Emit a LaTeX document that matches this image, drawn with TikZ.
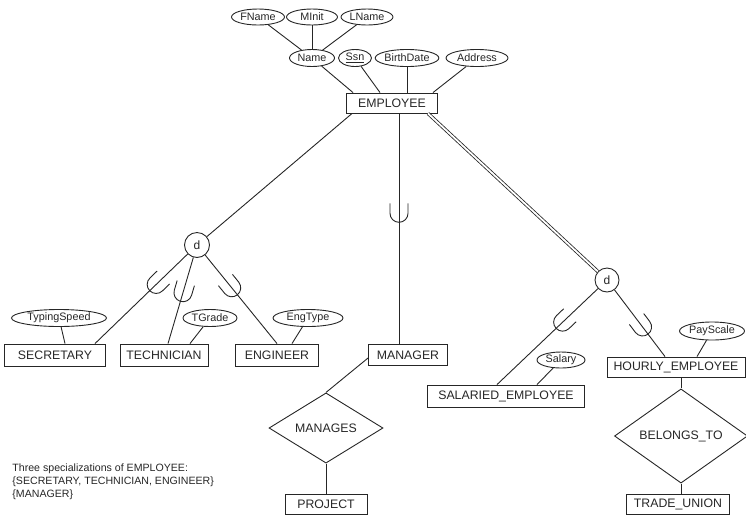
\documentclass[tikz,border=0pt]{standalone}
\usepackage{fontspec}
\setmainfont{Liberation Sans}
\usetikzlibrary{shapes.geometric,calc}
\begin{document}
\begin{tikzpicture}[x=1pt,y=-1pt,line width=0.9pt,color=black!85,
  ent/.style={draw,rectangle,inner sep=0pt,minimum height=21pt,font=\fontsize{12.3}{14}\selectfont},
  att/.style={draw,ellipse,inner sep=0pt,minimum height=17pt,font=\fontsize{10.8}{12}\selectfont},
  rel/.style={draw,diamond,inner sep=0pt,font=\fontsize{12.3}{14}\selectfont},
  disj/.style={draw,circle,inner sep=0pt,minimum size=25pt,font=\fontsize{12}{14}\selectfont},
  captxt/.style={anchor=base west,inner sep=0pt,font=\fontsize{10.6}{12}\selectfont},
  cupsym/.pic={\draw (-10pt,9pt) -- (0pt,9pt) arc[start angle=90,end angle=-90,radius=9pt] -- (-10pt,-9pt);},
  cup/.style={sloped,allow upside down}]
\useasboundingbox (0,0) rectangle (746,515);
% attributes of EMPLOYEE
\node[att,minimum width=53pt,minimum height=16pt] (fname) at (258,17) {FName};
\node[att,minimum width=51pt,minimum height=16pt] (minit) at (312,17) {MInit};
\node[att,minimum width=52pt,minimum height=16pt] (lname) at (367,17) {LName};
\node[att,minimum width=45pt] (name) at (312,58) {Name};
\node[att,minimum width=33pt] (ssn) at (355,58) {\underline{Ssn}};
\node[att,minimum width=63pt] (bdate) at (407,58) {BirthDate};
\node[att,minimum width=62pt] (addr) at (477,58) {Address};
% entities
\node[ent,minimum width=91pt,minimum height=20pt] (emp) at (392,103) {EMPLOYEE};
\node[ent,minimum width=101pt,minimum height=22pt] (sec) at (55,355) {SECRETARY};
\node[ent,minimum width=88pt,minimum height=22pt] (tech) at (164,355) {TECHNICIAN};
\node[ent,minimum width=83pt,minimum height=22pt] (eng) at (277,355) {ENGINEER};
\node[ent,minimum width=79pt,minimum height=21pt] (mgr) at (408,355) {MANAGER};
\node[ent,minimum width=157pt,minimum height=22pt] (sal) at (506,396) {SALARIED\_EMPLOYEE};
\node[ent,minimum width=138pt,minimum height=20pt] (hourly) at (676,367) {HOURLY\_EMPLOYEE};
\node[ent,minimum width=82pt,minimum height=20pt] (proj) at (326,504) {PROJECT};
\node[ent,minimum width=103pt,minimum height=20pt] (trade) at (678,504) {TRADE\_UNION};
% subclass attributes
\node[att,minimum width=95pt] (typ) at (59,318) {TypingSpeed};
\node[att,minimum width=54pt] (tgrade) at (210,318) {TGrade};
\node[att,minimum width=70pt] (engt) at (308,318) {EngType};
\node[att,minimum width=48pt,minimum height=16pt] (salary) at (561,360) {Salary};
\node[att,minimum width=65pt,minimum height=18pt] (pay) at (712,331) {PayScale};
% relationships
\node[rel,minimum width=114pt,minimum height=49pt] (manages) at (326,428) {MANAGES};
\node[rel,minimum width=133pt,minimum height=65pt] (belongs) at (681,436) {BELONGS\_TO};
% disjointness circles
\node[disj] (d1) at (197,245) {d};
\node[disj,minimum size=24pt] (d2) at (607,280) {d};
% attribute connectors
\draw (fname) -- (name);
\draw (minit) -- (name);
\draw (lname) -- (name);
\draw (name) -- ([xshift=-39pt]emp.north);
\draw (ssn) -- ([xshift=-12pt]emp.north);
\draw (bdate.south) -- (bdate.south |- emp.north);
\draw (addr) -- ([xshift=41pt]emp.north);
\draw (typ) -- ([xshift=10pt]sec.north);
\draw (tgrade) -- ([xshift=26pt]tech.north);
\draw (engt) -- ([xshift=15pt]eng.north);
\draw (salary) -- ([xshift=31pt]sal.north);
\draw (pay) -- ([xshift=21pt]hourly.north);
% specialization connectors
\draw ([xshift=6pt]emp.south west) -- (d1);
\draw (d1) -- ([xshift=40pt]sec.north) pic[cup,pos=0.34]{cupsym};
\draw (d1) -- ([xshift=4pt]tech.north) pic[cup,pos=0.41]{cupsym};
\draw (d1) -- (eng.north) pic[cup,pos=0.37]{cupsym};
\draw ([xshift=7pt]emp.south) -- ([xshift=-9pt]mgr.north) pic[cup,pos=0.433]{cupsym};
\draw[double,double distance=1.8pt,line width=0.8pt] ([xshift=36pt]emp.south) -- (d2);
\draw (d2) -- ([xshift=-9pt]sal.north) pic[cup,pos=0.35]{cupsym};
\draw (d2) -- ([xshift=-11pt]hourly.north) pic[cup,pos=0.556]{cupsym};
% relationship connectors
\draw ([yshift=-3pt]mgr.west) -- (manages.north);
\draw (manages.south) -- (proj.north);
\draw (hourly.south -| belongs.north) -- (belongs.north);
\draw (belongs.south) -- (belongs.south |- trade.north);
% caption
\node[captxt] (cap1) at (12,471) {Three specializations of EMPLOYEE:};
\node[captxt] (cap2) at (12,484) {\{SECRETARY, TECHNICIAN, ENGINEER\}};
\node[captxt] (cap3) at (12,497) {\{MANAGER\}};
\end{tikzpicture}
\end{document}
